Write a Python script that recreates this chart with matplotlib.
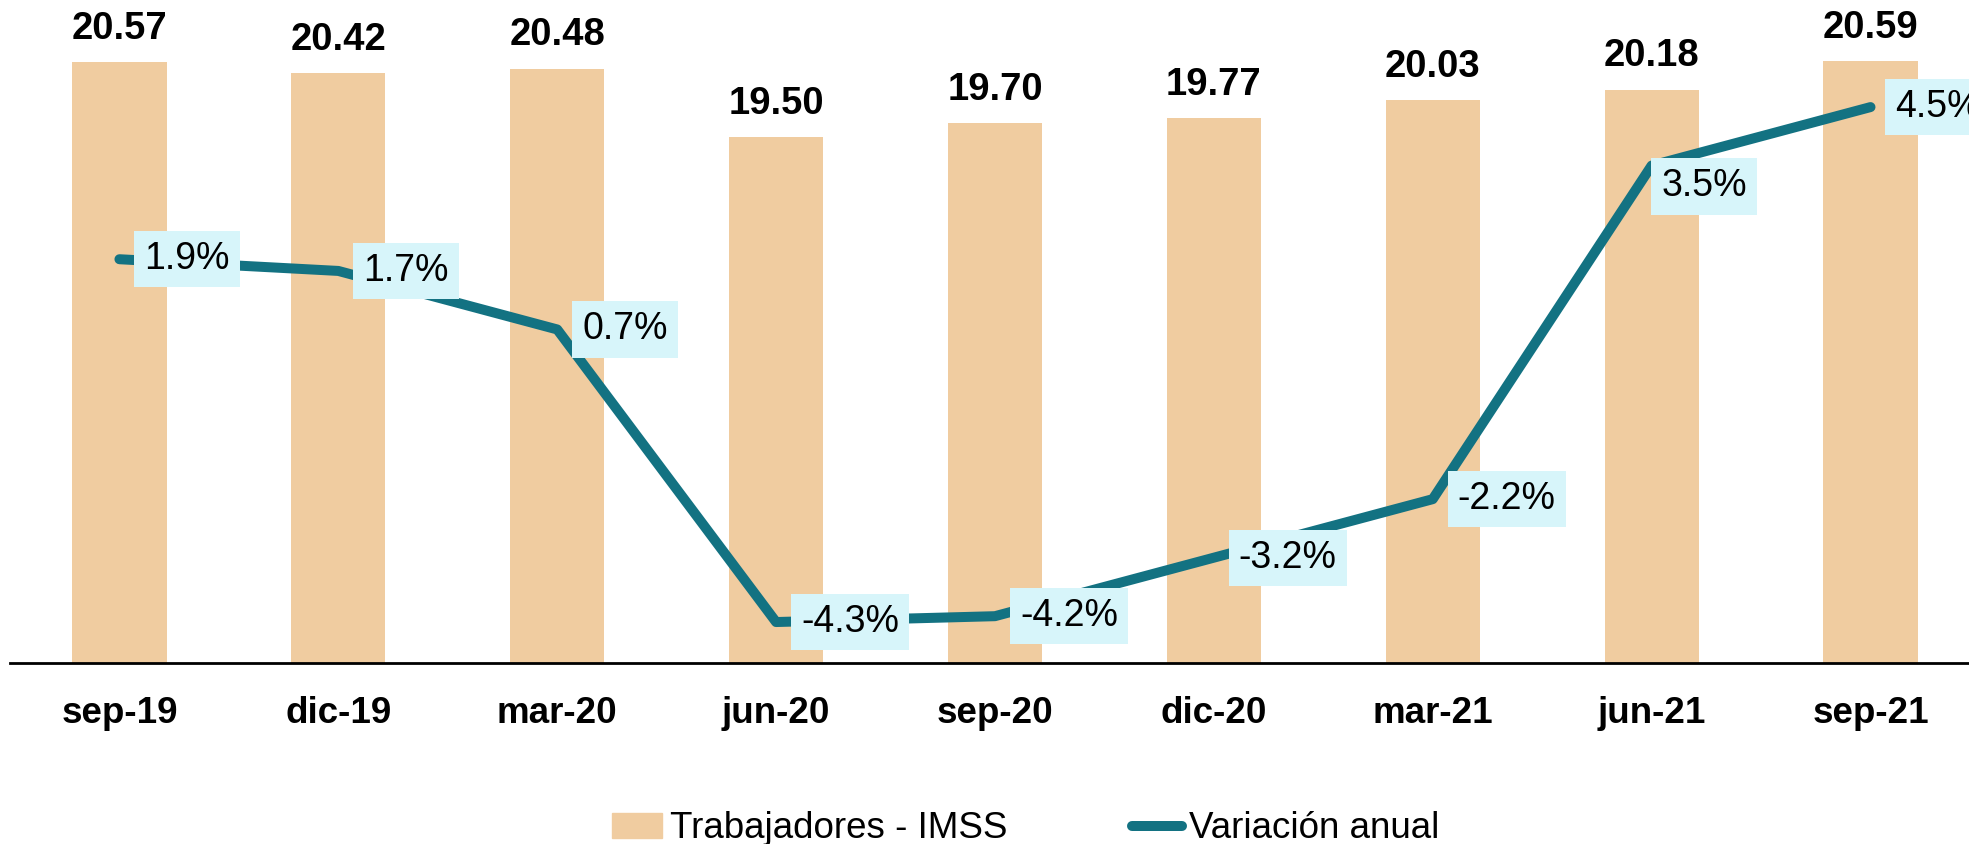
import matplotlib
matplotlib.use('Agg')
import matplotlib.pyplot as plt
from matplotlib.patches import Patch
from matplotlib.lines import Line2D
import numpy as np

meses = ['sep-19', 'dic-19', 'mar-20', 'jun-20', 'sep-20', 'dic-20', 'mar-21', 'jun-21', 'sep-21']
trabajadores = [20.57, 20.42, 20.48, 19.50, 19.70, 19.77, 20.03, 20.18, 20.59]
variacion = [1.9, 1.7, 0.7, -4.3, -4.2, -3.2, -2.2, 3.5, 4.5]

BAR_COLOR = '#F0CCA0'
LINE_COLOR = '#137282'
BOX_COLOR = '#D7F5FA'

plt.rcParams['font.family'] = ['Liberation Sans', 'DejaVu Sans']

fig = plt.figure(figsize=(19.69, 8.44), dpi=100)
ax1 = fig.add_axes([10 / 1969, 1 - 663 / 844, 1 - 10 / 1969, 663 / 844])

x = np.arange(len(meses))
ax1.bar(x, trabajadores, width=0.43, color=BAR_COLOR, zorder=2)
for xi, v in zip(x, trabajadores):
    ax1.annotate('%.2f' % v, (xi, v), xytext=(0, 11), textcoords='offset points',
                 ha='center', va='bottom', fontsize=27.5, fontweight='bold')

ax1.set_xlim(-0.5, 8.45)
ax1.set_ylim(12, 21.46)
ax1.set_xticks(x)
ax1.set_xticklabels(meses, fontsize=26.5, fontweight='bold')
ax1.tick_params(axis='x', length=0, pad=24)
ax1.set_yticks([])
for s in ['top', 'left', 'right']:
    ax1.spines[s].set_visible(False)
ax1.spines['bottom'].set_linewidth(2)

ax2 = ax1.twinx()
ax2.plot(x, variacion, color=LINE_COLOR, lw=7.2, solid_capstyle='round',
         solid_joinstyle='round', zorder=3)
ax2.set_ylim(-5.0, 6.33)
ax2.set_yticks([])
for s in ['top', 'left', 'right', 'bottom']:
    ax2.spines[s].set_visible(False)

# label offsets in points (jun-21 label sits below the point)
offsets = [(18, 0)] * len(variacion)
offsets[7] = (7, -15)
for xi, v, off in zip(x, variacion, offsets):
    ax2.annotate('%.1f%%' % v, (xi, v), xytext=off, textcoords='offset points',
                 ha='left', va='center', fontsize=27,
                 bbox=dict(boxstyle='square,pad=0.27', fc=BOX_COLOR, ec='none'),
                 zorder=4, annotation_clip=False)

handles = [Patch(color=BAR_COLOR, label='Trabajadores - IMSS'),
           Line2D([], [], color=LINE_COLOR, lw=7.2, solid_capstyle='round', label='Variación anual')]
fig.legend(handles=handles, loc='center', bbox_to_anchor=(1026 / 1969, 1 - 829 / 844),
           ncol=2, frameon=False, fontsize=26.5,
           handlelength=1.36, handleheight=0.65, handletextpad=0.2,
           columnspacing=3.4, borderpad=0)

fig.savefig('out.png', dpi=100)
